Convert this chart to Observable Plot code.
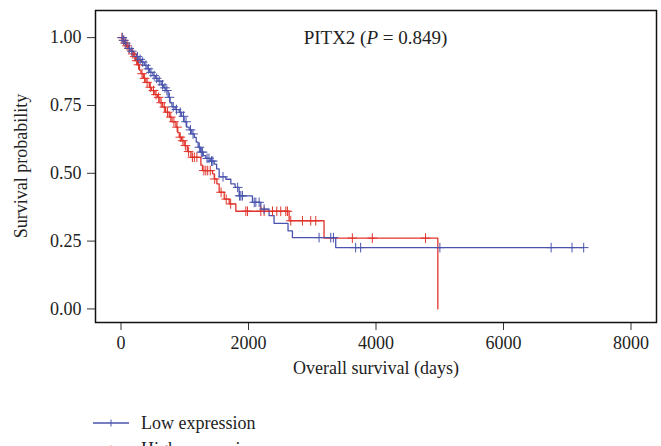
<!DOCTYPE html>
<html><head><meta charset="utf-8">
<script src="https://cdn.jsdelivr.net/npm/d3@7"></script>
<script src="https://cdn.jsdelivr.net/npm/@observablehq/plot@0.6"></script>
<style>
body{margin:0;background:#fff;overflow:hidden;}
#wrap{position:relative;width:661px;height:446px;overflow:hidden;font-family:"Liberation Serif","Times New Roman",serif;color:#222;}
.leg{position:absolute;left:93px;height:26px;display:flex;align-items:center;font-size:18px;}
.leg svg{margin-right:12px;}
</style></head><body><div id="wrap"></div>
<script>
// ---- data ----
const geneName = "PITX2";
const pValue = "0.849";
const groupNames = ["Low expression", "High expression"];
const groupColors = ["#4A54AE", "#E1342C"];

// Low expression: step times (days) and survival after each step
const lowTimes = [0,30,60,90,120,160,200,240,280,320,365,410,450,500,540,580,630,670,705,740,770,800,850,914,950,990,1030,1070,1110,1150,1180,1210,1250,1290,1331,1400,1462,1500,1540,1645,1723,1790,1853,2062,2193,2323,2401,2620,2689,3368,7258];
const lowSurv  = [1.0,0.99,0.98,0.97,0.96,0.95,0.94,0.93,0.92,0.91,0.898,0.885,0.872,0.86,0.85,0.84,0.826,0.815,0.805,0.78,0.76,0.745,0.735,0.725,0.71,0.69,0.67,0.66,0.645,0.632,0.615,0.596,0.578,0.565,0.555,0.545,0.534,0.516,0.487,0.478,0.461,0.448,0.417,0.393,0.368,0.344,0.315,0.288,0.263,0.226,0.226];
const lowCensor = [20,45,75,130,170,260,300,340,390,430,470,520,560,600,650,690,720,760,820,870,930,980,1020,1090,1130,1230,1260,1280,1350,1380,1420,1440,1600,1830,1860,1880,1905,2090,2115,2167,2245,3107,3290,3332,3681,3759,5002,6747,7075,7258];

// High expression
const highTimes = [0,25,50,80,110,140,170,200,230,260,290,313,350,390,444,480,530,574,610,653,700,757,800,862,890,914,950,992,1040,1097,1253,1279,1436,1462,1504,1540,1619,1697,1801,2637,3185,4970];
const highSurv  = [1.0,0.99,0.98,0.97,0.96,0.95,0.94,0.93,0.915,0.9,0.88,0.867,0.85,0.835,0.817,0.805,0.79,0.78,0.76,0.744,0.725,0.707,0.69,0.67,0.65,0.633,0.62,0.602,0.58,0.559,0.53,0.51,0.498,0.479,0.461,0.43,0.405,0.387,0.36,0.325,0.261,0.0];
const highCensor = [15,40,65,95,125,185,215,245,275,330,370,410,460,510,550,590,630,680,730,780,830,880,930,970,1010,1060,1120,1150,1190,1300,1330,1360,1400,1470,1570,1650,1720,1958,1985,2193,2245,2376,2444,2506,2585,2611,2663,2846,2976,3055,3629,3942,4777];

const xTicks = [0,2000,4000,6000,8000];
const yTicks = [0,0.25,0.5,0.75,1];
const xLabel = "Overall survival (days)";
const yLabel = "Survival probability";
const titlePos = {t: 4000, s: 1.0};

// ---- build tables ----
const toRows = (times, surv) => times.map((t,i) => ({t, s: surv[i]}));
const stepAt = (times, surv, t) => surv[Math.max(0, d3.bisectRight(times, t) - 1)];
const lowRows = toRows(lowTimes, lowSurv);
const highRows = toRows(highTimes, highSurv);
const lowCens = lowCensor.map(t => ({t, s: stepAt(lowTimes, lowSurv, t)}));
const highCens = highCensor.map(t => ({t, s: stepAt(highTimes, highSurv, t)}));

const plot = Plot.plot({
  width: 661, height: 400,
  marginLeft: 95, marginRight: 5, marginTop: 10, marginBottom: 78,
  style: {fontFamily: '"Liberation Serif","Times New Roman",serif', fontSize: "18px", color: "#222", background: "#fff"},
  x: {domain: [-400, 8400]},
  y: {domain: [-0.05, 1.1]},
  marks: [
    Plot.axisX({ticks: xTicks, tickFormat: d => String(d), tickSize: 8, tickPadding: 6, label: null, stroke: "#333"}),
    Plot.axisY({ticks: yTicks, tickFormat: d3.format(".2f"), tickSize: 8, tickPadding: 6, label: null, stroke: "#333"}),
    Plot.line(highRows, {x: "t", y: "s", curve: "step-after", stroke: groupColors[1], strokeWidth: 1.3}),
    Plot.line(lowRows, {x: "t", y: "s", curve: "step-after", stroke: groupColors[0], strokeWidth: 1.3}),
    Plot.dot(highCens, {x: "t", y: "s", symbol: "plus", r: 3.2, stroke: groupColors[1], strokeWidth: 1}),
    Plot.dot(lowCens, {x: "t", y: "s", symbol: "plus", r: 3.2, stroke: groupColors[0], strokeWidth: 1}),
    Plot.frame({stroke: "#111", strokeWidth: 1.5})
  ]
});

const svg = d3.select(plot);
const sx = plot.scale("x"), sy = plot.scale("y");
const title = svg.append("text")
  .attr("x", sx.apply(titlePos.t)).attr("y", sy.apply(titlePos.s))
  .attr("dy", "0.35em").attr("text-anchor", "middle")
  .attr("fill", "#222").style("font-size", "19px");
title.append("tspan").text(geneName + " (");
title.append("tspan").attr("font-style", "italic").text("P");
title.append("tspan").text(" = " + pValue + ")");

svg.append("text").attr("x", 376).attr("y", 374).attr("text-anchor", "middle")
  .attr("fill", "#222").style("font-size", "18px").text(xLabel);
svg.append("text").attr("transform", "translate(27,166) rotate(-90)").attr("text-anchor", "middle")
  .attr("fill", "#222").style("font-size", "18px").text(yLabel);

const wrap = document.getElementById("wrap");
wrap.appendChild(plot);

groupNames.forEach((name, i) => {
  const div = document.createElement("div");
  div.className = "leg";
  div.style.top = (410 + i * 26) + "px";
  div.innerHTML = `<svg width="36" height="10"><line x1="0" y1="5" x2="36" y2="5" stroke="${groupColors[i]}" stroke-width="1.3"/><line x1="18" y1="1.5" x2="18" y2="8.5" stroke="${groupColors[i]}" stroke-width="1"/></svg><span>${name}</span>`;
  wrap.appendChild(div);
});
</script>
</body></html>
